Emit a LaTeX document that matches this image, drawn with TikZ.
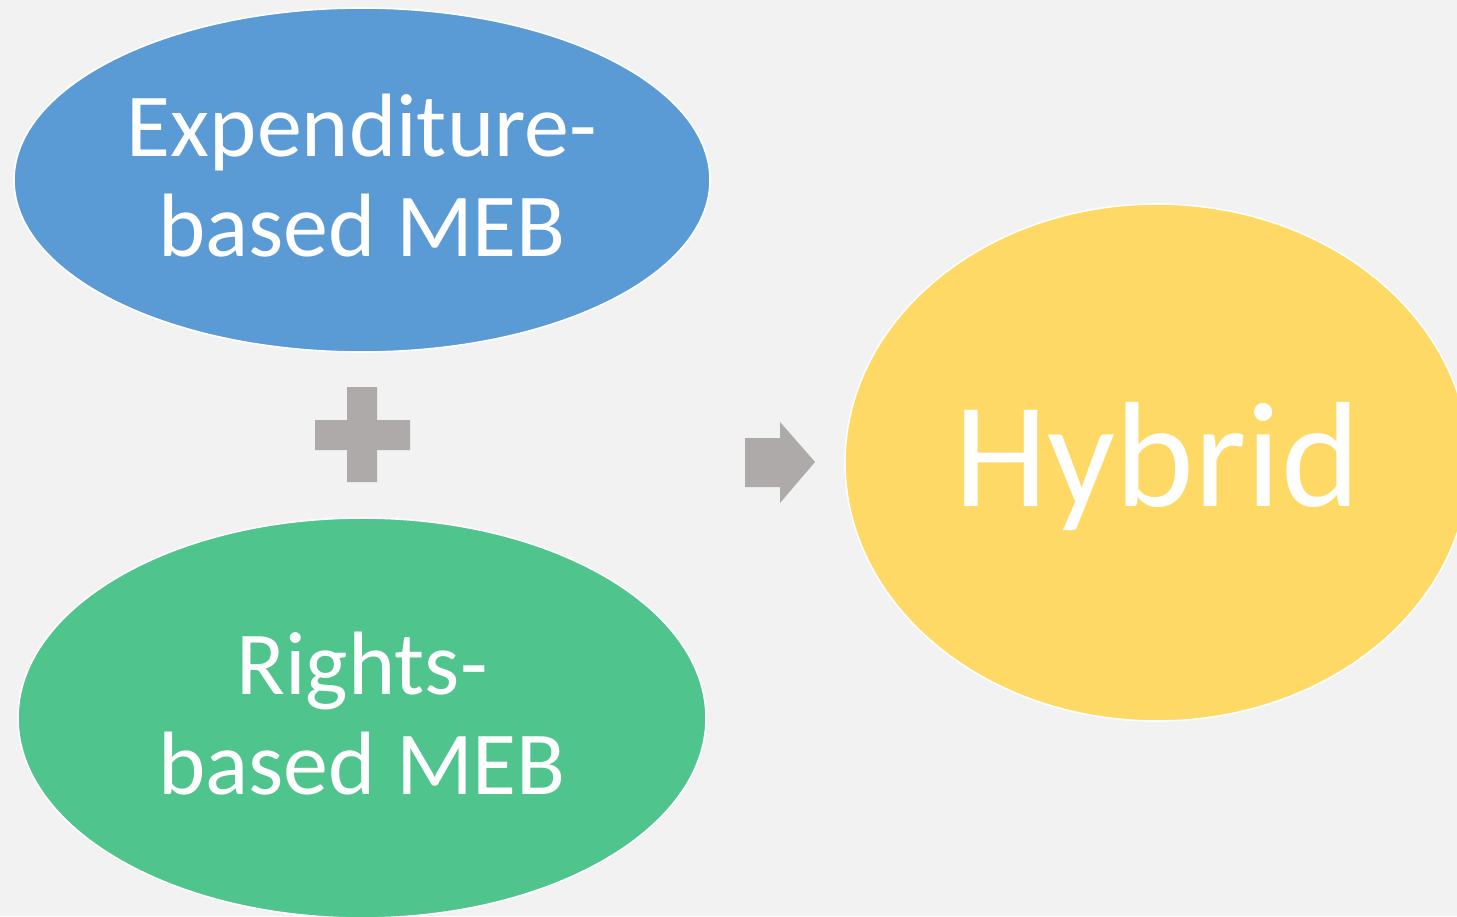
\documentclass[tikz,border=0pt]{standalone}
\usepackage{fontspec}
\setmainfont{Carlito}
\usetikzlibrary{shapes.geometric}
\definecolor{bggray}{HTML}{F2F2F2}
\definecolor{mebblue}{HTML}{5B9BD5}
\definecolor{mebgreen}{HTML}{4FC58D}
\definecolor{hybyellow}{HTML}{FFD966}
\definecolor{signgray}{HTML}{AEAAAA}

\begin{document}
\begin{tikzpicture}[x=0.5pt,y=-0.5pt]
\tikzstyle{every node}+=[inner sep=0pt]
\tikzstyle{blob}=[ellipse, draw=white, line width=0.8pt]
\tikzstyle{blobtext}=[text=white, align=center]
\useasboundingbox (0,0) rectangle (1457,916);
\clip (0,0) rectangle (1457,916);
\fill [bggray] (0,0) rectangle (1457,916);
% the two kinds of MEB
\node [blob, fill=mebblue, minimum width=348pt, minimum height=172pt] (expend) at (362,180) {};
\node [blobtext, font=\fontsize{45}{50}\selectfont] (expendtext) at ([yshift=2pt]expend.center)
  {Expenditure-\\based MEB};
\node [blob, fill=mebgreen, minimum width=344pt, minimum height=200pt] (rights) at (362,718) {};
\node [blobtext, font=\fontsize{45}{50}\selectfont] (rightstext) at ([yshift=2pt]rights.center)
  {Rights-\\based MEB};
% the result
\node [blob, fill=hybyellow, minimum width=312pt, minimum height=258.5pt] (hybrid) at (1157,462.5) {};
\node [blobtext, font=\fontsize{75}{80}\selectfont] (hybridtext) at ([yshift=-2.25pt]hybrid.center)
  {Hybrid};
% plus sign
\fill [signgray] (347,387) -- (377,387) -- (377,420) -- (410,420) -- (410,450)
  -- (377,450) -- (377,482) -- (347,482) -- (347,450) -- (315,450)
  -- (315,420) -- (347,420) -- cycle;
% arrow
\fill [signgray] (745,438) -- (780,438) -- (780,422) -- (815,462)
  -- (780,503) -- (780,487) -- (745,487) -- cycle;
\end{tikzpicture}
\end{document}
